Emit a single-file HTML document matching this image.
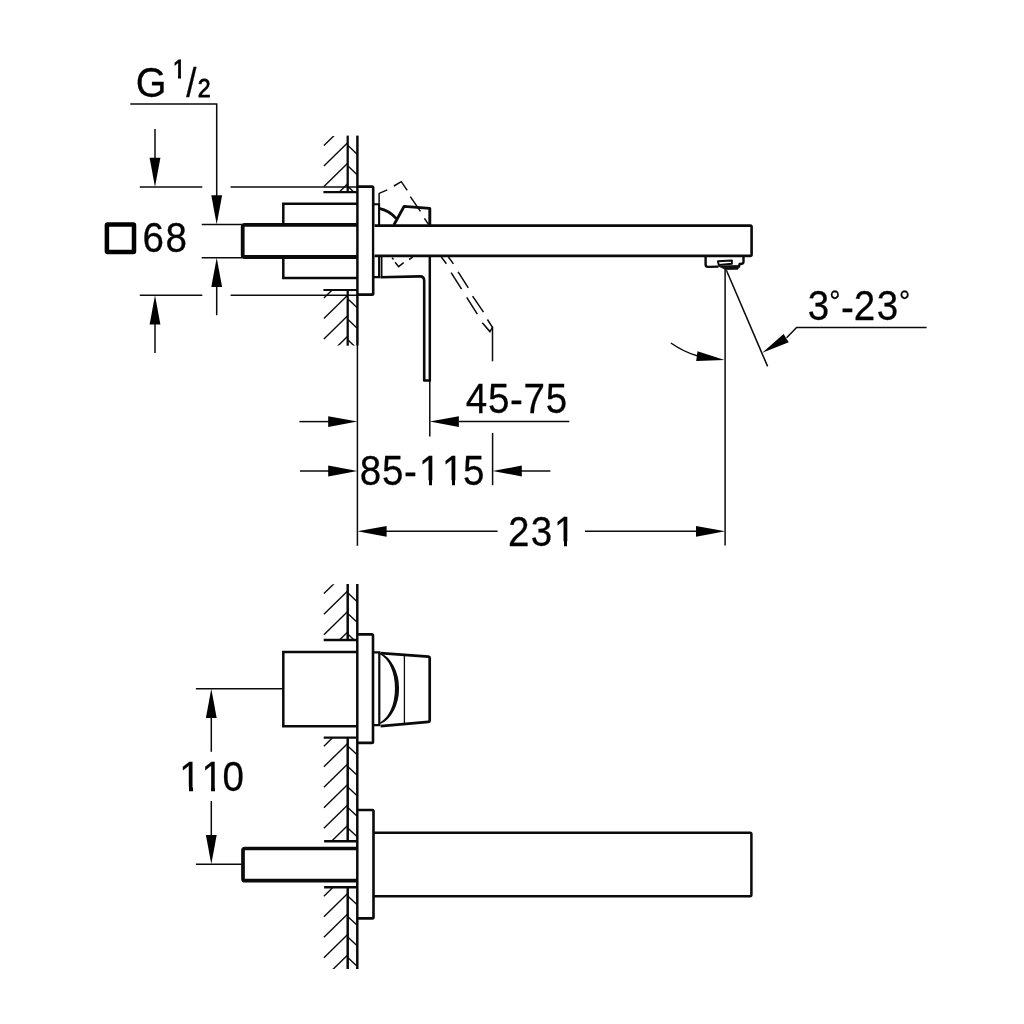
<!DOCTYPE html>
<html lang="en">
<head>
<meta charset="utf-8">
<title>Technical drawing</title>
<style>
html,body{margin:0;padding:0;background:#fff;}
body{width:1024px;height:1024px;overflow:hidden;}
svg{display:block;will-change:transform;}
svg text{font-family:"Liberation Sans",Arial,Helvetica,sans-serif;fill:#000;stroke:#000;stroke-width:0.25px;font-kerning:none;}
</style>
</head>
<body>
<svg width="1024" height="1024" viewBox="0 0 1024 1024" fill="none" stroke="#0a0a0a" stroke-linecap="butt">
<rect x="0" y="0" width="1024" height="1024" fill="#fff" stroke="none"/>
<path d="M130.3,104.1 H216.7 V196" stroke-width="1.5" />
<polygon points="216.70,224.50 211.30,195.30 222.10,195.30" fill="#000" stroke="none"/>
<line x1="201.7" y1="224.5" x2="242" y2="224.5" stroke-width="1.5" />
<line x1="201.7" y1="257.7" x2="242" y2="257.7" stroke-width="1.5" />
<polygon points="216.70,257.70 222.10,286.90 211.30,286.90" fill="#000" stroke="none"/>
<line x1="216.7" y1="286" x2="216.7" y2="315.2" stroke-width="1.5" />
<line x1="155" y1="129.1" x2="155" y2="159" stroke-width="1.5" />
<polygon points="155.00,187.00 149.60,157.80 160.40,157.80" fill="#000" stroke="none"/>
<line x1="139.8" y1="187" x2="202.3" y2="187" stroke-width="1.5" />
<line x1="230.6" y1="187" x2="357" y2="187" stroke-width="1.5" />
<line x1="139.8" y1="295.2" x2="202.3" y2="295.2" stroke-width="1.5" />
<line x1="230.6" y1="295.2" x2="357" y2="295.2" stroke-width="1.5" />
<polygon points="155.00,295.20 160.40,324.40 149.60,324.40" fill="#000" stroke="none"/>
<line x1="155" y1="324" x2="155" y2="352.9" stroke-width="1.5" />
<rect x="106.9" y="224.6" width="27.1" height="27.5" stroke-width="4.5" fill="none" stroke="#000" rx="0.8"/>
<text transform="translate(142.59,252.00) scale(0.965,1.05)" x="0.00 23.78" y="0" font-size="40">68</text>
<text transform="translate(135.76,97.10) scale(0.965,1.05)" x="0.00 31.86 38.23 52.36 64.22" y="0.00 0.00 -18.19 0.00 0.00" font-size="41">G <tspan font-size="24" style="stroke-width:0.8px">1</tspan><tspan font-size="38">/</tspan><tspan font-size="24" style="stroke-width:0.8px">2</tspan></text>
<rect x="173.13" y="74.72" width="4.87" height="6.68" fill="#fff" stroke="none"/>
<rect x="181.00" y="74.72" width="5.09" height="6.68" fill="#fff" stroke="none"/>
<clipPath id="h1"><rect x="320" y="136" width="40" height="56"/></clipPath>
<g clip-path="url(#h1)" stroke-width="1.4">
<line x1="323.9" y1="145.6" x2="347.4" y2="122.6"/>
<line x1="323.9" y1="166.1" x2="347.4" y2="143.1"/>
<line x1="323.9" y1="186.6" x2="347.4" y2="163.6"/>
<line x1="323.9" y1="207.1" x2="347.4" y2="184.1"/>
<line x1="348" y1="125.1" x2="356.9" y2="133.5"/>
<line x1="348" y1="145.6" x2="356.9" y2="154.0"/>
<line x1="348" y1="166.1" x2="356.9" y2="174.5"/>
<line x1="348" y1="186.6" x2="356.9" y2="195.0"/>
</g>
<clipPath id="h2"><rect x="320" y="290" width="40" height="55.60000000000002"/></clipPath>
<g clip-path="url(#h2)" stroke-width="1.4">
<line x1="323.9" y1="298.1" x2="347.4" y2="275.1"/>
<line x1="323.9" y1="318.6" x2="347.4" y2="295.6"/>
<line x1="323.9" y1="339.1" x2="347.4" y2="316.1"/>
<line x1="323.9" y1="359.6" x2="347.4" y2="336.6"/>
<line x1="348" y1="278.5" x2="356.9" y2="286.9"/>
<line x1="348" y1="299.0" x2="356.9" y2="307.4"/>
<line x1="348" y1="319.5" x2="356.9" y2="327.9"/>
<line x1="348" y1="340.0" x2="356.9" y2="348.4"/>
</g>
<line x1="347.7" y1="135.6" x2="347.7" y2="192" stroke-width="2.3" />
<line x1="347.7" y1="290" x2="347.7" y2="345.7" stroke-width="2.3" />
<line x1="357.4" y1="135.6" x2="357.4" y2="345.4" stroke-width="2.5" />
<line x1="357.4" y1="345" x2="357.4" y2="545.8" stroke-width="1.5" />
<line x1="323.4" y1="192.1" x2="357" y2="192.1" stroke-width="2.1" />
<line x1="323.4" y1="290" x2="357" y2="290" stroke-width="2.1" />
<path d="M357.4,186.6 H372 Q373.2,186.6 373.2,187.8 V293.4 Q373.2,294.6 372,294.6 H357.4" stroke-width="2.6" fill="none"/>
<path d="M357,203.8 H283.3 V225" stroke-width="2.5" fill="none"/>
<path d="M283.3,257.4 V278 H357" stroke-width="2.5" fill="none"/>
<path d="M357,224.8 H244.7 Q242.7,224.8 242.7,226.8 V255 Q242.7,257 244.7,257 H357" stroke-width="3.8" fill="none"/>
<path d="M374,204.2 H379.1 V277.1 H374" stroke-width="2.1" fill="none"/>
<line x1="381.6" y1="256" x2="381.6" y2="276" stroke-width="1.8" />
<path d="M380.4,277.2 L420,276.4 Q424.2,276.4 424.2,281 V380.5 H429.8" stroke-width="2.6" fill="none" stroke-linejoin="round"/>
<line x1="429.8" y1="256" x2="429.8" y2="381.6" stroke-width="2.5" />
<line x1="429.8" y1="380" x2="429.8" y2="436.5" stroke-width="1.5" />
<path d="M374.5,225.6 H750.3 Q751.6,225.6 751.6,226.9 V254.6 Q751.6,255.9 750.3,255.9 H374.5" stroke-width="2.6" fill="#fff" stroke-linejoin="round"/>
<path d="M379.1,208.3 Q389.5,210.5 396.3,218.6" stroke-width="2.8" fill="none"/>
<path d="M393.9,224.9 L404.1,206.4 L429.8,208.4 V225" stroke-width="2.9" fill="none" stroke-linejoin="round"/>
<path d="M379.1,204.4 V193.4 L387.3,189.9 M393.9,186 L401.3,181.7 L407.2,190.3 M410.3,196.6 L420.5,211.4 M424.4,218.4 L428.7,224.7" stroke-width="1.5" fill="none"/>
<path d="M392,257.6 L393.5,259.5 M395.1,262.3 L398.6,266.6 L403.7,262.7 M409.1,259.5 L412.7,257.2" stroke-width="1.5" fill="none"/>
<path d="M441.3,257 L446.4,263.7 M451.1,272.7 L461.6,289.1 M466.7,297.3 L477.3,314.1 M482.3,322.7 L489.9,331.6 L492.5,327.3" stroke-width="1.5" fill="none"/>
<path d="M448.4,257 L453.4,263.9 M458.1,271.9 L468.3,287.9 M472.6,296.1 L483.5,312.1 M487.4,319.5 L492.5,327.3" stroke-width="1.5" fill="none"/>
<line x1="492.5" y1="326.6" x2="492.5" y2="361.3" stroke-width="1.5" />
<path d="M705.6,256 V264.5 Q705.6,266.9 708,266.9 L718.5,266.6 M738.8,267.5 L739.6,264 L742,263.7 Q743.5,263.5 743.5,262 V256" stroke-width="2.4" fill="none" stroke-linejoin="round"/>
<path d="M717.8,261.3 L731.9,260.5 L731.9,263.7 L718.8,265 Z" stroke-width="1.9" fill="none" stroke-linejoin="round"/>
<polygon points="718.2,266 739,265.4 738,269.2 725.8,269.6" fill="#111" stroke="#111" stroke-width="0.8" stroke-linejoin="round"/>
<line x1="725.1" y1="269" x2="725.1" y2="545.5" stroke-width="1.5" />
<line x1="726.4" y1="270.3" x2="767.6" y2="366.4" stroke-width="1.5" />
<path d="M926.6,327.4 H796.6 L786.6,337.8" stroke-width="1.5" fill="none"/>
<polygon points="762.30,352.70 783.60,333.88 788.73,342.24" fill="#000" stroke="none"/>
<path d="M670.9,343 Q683,351.5 697,355.8" stroke-width="1.5" fill="none"/>
<polygon points="724.60,359.90 696.20,360.98 697.52,351.27" fill="#000" stroke="none"/>
<text transform="translate(807.79,320.30) scale(0.965,1.05)" x="0.00 22.19 34.45 47.67 71.55 94.52" y="0.00 -7.71 1.33 0.00 0.00 -7.71" font-size="40">3<tspan font-size="29">°</tspan>-23<tspan font-size="29">°</tspan></text>
<line x1="299.4" y1="421.6" x2="329" y2="421.6" stroke-width="1.5" />
<polygon points="357.40,421.60 328.20,427.00 328.20,416.20" fill="#000" stroke="none"/>
<polygon points="429.70,421.60 458.90,416.20 458.90,427.00" fill="#000" stroke="none"/>
<line x1="459" y1="421.6" x2="569.3" y2="421.6" stroke-width="1.5" />
<text transform="translate(465.69,413.00) scale(0.965,1.05)" x="0.00 23.05 45.94 59.91 82.96" y="0.00 0.00 1.33 0.00 0.00" font-size="40">45-75</text>
<line x1="300" y1="471" x2="329" y2="471" stroke-width="1.5" />
<polygon points="357.40,471.00 328.20,476.40 328.20,465.60" fill="#000" stroke="none"/>
<text transform="translate(359.79,485.00) scale(0.965,1.05)" x="0.00 23.05 45.94 61.46 85.24 106.84" y="0.00 0.00 1.33 0.00 0.00 0.00" font-size="40">85-115</text>
<rect x="419.90" y="480.26" width="9.10" height="6.74" fill="#fff" stroke="none"/>
<rect x="432.00" y="480.26" width="9.50" height="6.74" fill="#fff" stroke="none"/>
<rect x="442.85" y="480.26" width="9.15" height="6.74" fill="#fff" stroke="none"/>
<rect x="455.00" y="480.26" width="9.45" height="6.74" fill="#fff" stroke="none"/>
<line x1="492.6" y1="432.9" x2="492.6" y2="485.2" stroke-width="1.5" />
<polygon points="492.60,471.00 521.80,465.60 521.80,476.40" fill="#000" stroke="none"/>
<line x1="521" y1="471" x2="550.4" y2="471" stroke-width="1.5" />
<polygon points="357.40,531.30 386.60,525.90 386.60,536.70" fill="#000" stroke="none"/>
<line x1="386" y1="531.3" x2="497.6" y2="531.3" stroke-width="1.5" />
<line x1="585" y1="531.3" x2="697" y2="531.3" stroke-width="1.5" />
<polygon points="725.20,531.30 696.00,536.70 696.00,525.90" fill="#000" stroke="none"/>
<text transform="translate(507.89,546.00) scale(0.965,1.05)" x="0.00 23.57 47.87" y="0" font-size="40">231</text>
<rect x="554.88" y="541.26" width="9.12" height="6.74" fill="#fff" stroke="none"/>
<rect x="567.00" y="541.26" width="9.48" height="6.74" fill="#fff" stroke="none"/>
<clipPath id="h3"><rect x="320" y="584.2" width="40" height="55.799999999999955"/></clipPath>
<g clip-path="url(#h3)" stroke-width="1.4">
<line x1="323.9" y1="593.6" x2="347.4" y2="570.6"/>
<line x1="323.9" y1="614.2" x2="347.4" y2="591.2"/>
<line x1="323.9" y1="634.7" x2="347.4" y2="611.7"/>
<line x1="323.9" y1="655.2" x2="347.4" y2="632.2"/>
<line x1="348" y1="572.7" x2="356.9" y2="581.1"/>
<line x1="348" y1="593.1" x2="356.9" y2="601.5"/>
<line x1="348" y1="613.7" x2="356.9" y2="622.1"/>
<line x1="348" y1="634.2" x2="356.9" y2="642.6"/>
</g>
<clipPath id="h4"><rect x="320" y="738" width="40" height="103.29999999999995"/></clipPath>
<g clip-path="url(#h4)" stroke-width="1.4">
<line x1="323.9" y1="746.2" x2="347.4" y2="723.2"/>
<line x1="323.9" y1="766.7" x2="347.4" y2="743.7"/>
<line x1="323.9" y1="787.2" x2="347.4" y2="764.2"/>
<line x1="323.9" y1="807.7" x2="347.4" y2="784.7"/>
<line x1="323.9" y1="828.2" x2="347.4" y2="805.2"/>
<line x1="323.9" y1="848.7" x2="347.4" y2="825.7"/>
<line x1="348" y1="725.7" x2="356.9" y2="734.1"/>
<line x1="348" y1="746.2" x2="356.9" y2="754.6"/>
<line x1="348" y1="766.7" x2="356.9" y2="775.1"/>
<line x1="348" y1="787.2" x2="356.9" y2="795.6"/>
<line x1="348" y1="807.7" x2="356.9" y2="816.1"/>
<line x1="348" y1="828.2" x2="356.9" y2="836.6"/>
</g>
<clipPath id="h5"><rect x="320" y="887.2" width="40" height="81.79999999999995"/></clipPath>
<g clip-path="url(#h5)" stroke-width="1.4">
<line x1="323.9" y1="896.2" x2="347.4" y2="873.2"/>
<line x1="323.9" y1="916.7" x2="347.4" y2="893.7"/>
<line x1="323.9" y1="937.2" x2="347.4" y2="914.2"/>
<line x1="323.9" y1="957.7" x2="347.4" y2="934.7"/>
<line x1="323.9" y1="978.2" x2="347.4" y2="955.2"/>
<line x1="348" y1="875.7" x2="356.9" y2="884.1"/>
<line x1="348" y1="896.2" x2="356.9" y2="904.6"/>
<line x1="348" y1="916.7" x2="356.9" y2="925.1"/>
<line x1="348" y1="937.2" x2="356.9" y2="945.6"/>
<line x1="348" y1="957.7" x2="356.9" y2="966.1"/>
</g>
<line x1="347.7" y1="584" x2="347.7" y2="640" stroke-width="2.5" />
<line x1="347.7" y1="738" x2="347.7" y2="841.3" stroke-width="2.5" />
<line x1="347.7" y1="887.2" x2="347.7" y2="969" stroke-width="2.5" />
<line x1="357.3" y1="584" x2="357.3" y2="969" stroke-width="2.5" />
<line x1="323.7" y1="640" x2="357" y2="640" stroke-width="2.4" />
<line x1="323.7" y1="737.6" x2="357" y2="737.6" stroke-width="2.4" />
<line x1="324.1" y1="841.3" x2="357" y2="841.3" stroke-width="2.4" />
<line x1="324.1" y1="887.2" x2="357" y2="887.2" stroke-width="2.4" />
<path d="M357.3,634.4 H371.8 Q373,634.4 373,635.6 V741.7 Q373,742.9 371.8,742.9 H357.3" stroke-width="2.6" fill="none"/>
<path d="M357,652 H283.3 V726.3 H357" stroke-width="2.5" fill="none"/>
<path d="M374,652.3 H379.3 V725.2 H374" stroke-width="2.2" fill="none"/>
<path d="M380.6,653.2 L428.4,656.7 Q429.7,656.8 429.7,658.1 V720.5 Q429.7,721.8 428.4,721.9 L380.6,726.2" stroke-width="2.7" fill="none" stroke-linejoin="round"/>
<line x1="404.4" y1="654.6" x2="404.4" y2="724" stroke-width="1.3" />
<path d="M380.3,653.7 C390.3,657.6 398.3,672 398.3,688.4 C398.3,704.8 390.3,719.2 380.3,723.1 C389.5,718.4 395.7,704.8 395.7,688.4 C395.7,672 389.5,658.4 380.3,653.7 Z" stroke-width="1.5" fill="#111" stroke-linejoin="round"/>
<path d="M357.3,810 H372.3 Q373.5,810 373.5,811.2 V917.2 Q373.5,918.4 372.3,918.4 H357.3" stroke-width="2.6" fill="none"/>
<path d="M357,848.5 H245 Q243,848.5 243,850.3 V878.9 Q243,880.7 245,880.7 H357" stroke-width="3.7" fill="none"/>
<path d="M374,832.7 H750 Q751.4,832.7 751.4,834.1 V894.8 Q751.4,896.2 750,896.2 H374" stroke-width="2.5" fill="none" stroke-linejoin="round"/>
<line x1="195.9" y1="688.7" x2="283" y2="688.7" stroke-width="1.5" />
<line x1="195.9" y1="864.3" x2="242" y2="864.3" stroke-width="1.5" />
<polygon points="211.30,688.70 216.70,717.90 205.90,717.90" fill="#000" stroke="none"/>
<line x1="211.3" y1="717" x2="211.3" y2="751.8" stroke-width="1.5" />
<line x1="211.3" y1="801" x2="211.3" y2="836" stroke-width="1.5" />
<polygon points="211.30,864.30 205.90,835.10 216.70,835.10" fill="#000" stroke="none"/>
<text transform="translate(179.29,791.00) scale(0.965,1.05)" x="0.00 23.05 44.86" y="0" font-size="40">110</text>
<rect x="180.09" y="786.26" width="8.91" height="6.74" fill="#fff" stroke="none"/>
<rect x="193.00" y="786.26" width="8.69" height="6.74" fill="#fff" stroke="none"/>
<rect x="202.34" y="786.26" width="8.66" height="6.74" fill="#fff" stroke="none"/>
<rect x="215.00" y="786.26" width="8.94" height="6.74" fill="#fff" stroke="none"/>
</svg>
</body>
</html>
